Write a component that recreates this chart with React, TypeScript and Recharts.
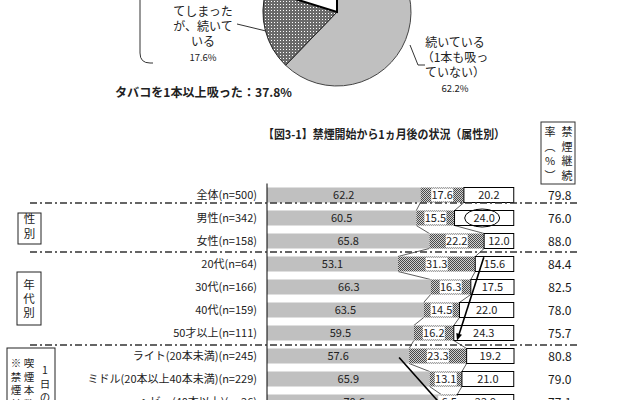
import {
  Bar,
  BarChart,
  Cell,
  LabelList,
  Pie,
  PieChart,
  ReferenceDot,
  ReferenceLine,
  XAxis,
  YAxis,
} from "recharts";

const FONT = '"Noto Sans CJK JP", "Noto Sans", sans-serif';

// pie: 禁煙開始から1ヵ月後
const pieNames = ["続いている(1本も吸っていない)", "吸ってしまったが、続いている", "やめてしまった"];
const pieValues = [62.2, 17.6, 20.2];

// bars: 属性別
const categories = [
  "全体(n=500)",
  "男性(n=342)",
  "女性(n=158)",
  "20代(n=64)",
  "30代(n=166)",
  "40代(n=159)",
  "50才以上(n=111)",
  "ライト(20本未満)(n=245)",
  "ミドル(20本以上40本未満)(n=229)",
  "ヘビー(40本以上)(n=26)",
];
const continued = [62.2, 60.5, 65.8, 53.1, 66.3, 63.5, 59.5, 57.6, 65.9, 70.6];
const smokedStill = [17.6, 15.5, 22.2, 31.3, 16.3, 14.5, 16.2, 23.3, 13.1, 6.5];
const stopped = [20.2, 24.0, 12.0, 15.6, 17.5, 22.0, 24.3, 19.2, 21.0, 22.9];
const rate = [79.8, 76.0, 88.0, 84.4, 82.5, 78.0, 75.7, 80.8, 79.0, 77.1];

const rows = categories.map((name, i) => ({
  name,
  a: continued[i],
  b: smokedStill[i],
  c: stopped[i],
  rate: rate[i],
}));

const CH = 420;
const MARGIN = { top: 183.5, right: 126, bottom: 6.5, left: 0 };
const PITCH = (CH - MARGIN.top - MARGIN.bottom) / rows.length;

function SegA(p: any) {
  const { x, y, width, height, index } = p;
  const k = width / continued[index];
  const nx = continued[index + 1];
  return (
    <g>
      <rect x={x} y={y} width={width} height={height} fill="#c0c0c0" />
      {nx !== undefined && (
        <line x1={x + width} y1={y + height} x2={x + nx * k} y2={y + PITCH} stroke="#333" strokeWidth={0.8} />
      )}
    </g>
  );
}

function SegB(p: any) {
  const { x, y, width, height, index } = p;
  const k = width / smokedStill[index];
  const x0 = x - continued[index] * k;
  const i2 = index + 1;
  return (
    <g>
      <rect x={x} y={y} width={width} height={height} fill="url(#bardots)" />
      {i2 < rows.length && (
        <line
          x1={x + width}
          y1={y + height}
          x2={x0 + (continued[i2] + smokedStill[i2]) * k}
          y2={y + PITCH}
          stroke="#333"
          strokeWidth={0.8}
        />
      )}
    </g>
  );
}

function SegC(p: any) {
  const { x, y, width, height } = p;
  return <rect x={x} y={y} width={width} height={height} fill="#fff" stroke="#000" strokeWidth={1} />;
}

const midLabel = (p: any) => (
  <text x={p.x + p.width / 2} y={p.y + p.height / 2 + 4} textAnchor="middle" fontSize={11} fill="#222" fontFamily={FONT}>
    {Number(p.value).toFixed(1)}
  </text>
);

const boxLabel = (p: any) => {
  const cx = p.x + p.width / 2;
  const cy = p.y + p.height / 2;
  return (
    <g>
      <rect x={cx - 11} y={cy - 6.5} width={22} height={13} fill="#fff" />
      <text x={cx} y={cy + 4} textAnchor="middle" fontSize={11} fill="#222" fontFamily={FONT}>
        {Number(p.value).toFixed(1)}
      </text>
    </g>
  );
};

const rateLabel = (p: any) => (
  <text x={p.x + p.width + 46} y={p.y + p.height / 2 + 4.5} textAnchor="middle" fontSize={12} fill="#1a1a1a" fontFamily={FONT}>
    {Number(p.value).toFixed(1)}
  </text>
);

function arrow(ext0: number, ext1: number) {
  return (p: any) => {
    const { x1, y1, x2, y2 } = p;
    const dx = x2 - x1;
    const dy = y2 - y1;
    const L = Math.hypot(dx, dy) || 1;
    const ux = dx / L;
    const uy = dy / L;
    const sx = x1 - ux * ext0;
    const sy = y1 - uy * ext0;
    const ex = x2 + ux * ext1;
    const ey = y2 + uy * ext1;
    const hx = ex - ux * 7;
    const hy = ey - uy * 7;
    return (
      <g>
        <line x1={sx} y1={sy} x2={hx} y2={hy} stroke="#000" strokeWidth={1.6} />
        <polygon points={`${ex},${ey} ${hx - uy * 3},${hy + ux * 3} ${hx + uy * 3},${hy - ux * 3}`} fill="#000" />
      </g>
    );
  };
}

const ellipse = (p: any) => (
  <ellipse cx={p.cx} cy={p.cy} rx={17.5} ry={9} fill="none" stroke="#000" strokeWidth={1} />
);

function VText({ x, y, chars, step, size = 11 }: { x: number; y: number; chars: string[]; step: number; size?: number }) {
  return (
    <>
      {chars.map((c, i) => (
        <text key={i} x={x} y={y + i * step} textAnchor="middle" fontSize={size} fill="#222">
          {c}
        </text>
      ))}
    </>
  );
}

const sepDash = "7 3 2 3";

export default function App() {
  const pieData = pieNames.map((name, i) => ({ name, v: pieValues[i] }));
  const smokedTotal = (pieValues[1] + pieValues[2]).toFixed(1);
  return (
    <div
      style={{
        position: "absolute",
        left: 0,
        top: 0,
        width: 640,
        height: 400,
        overflow: "hidden",
        background: "#fff",
        fontFamily: FONT,
      }}
    >
      <div style={{ position: "absolute", left: 0, top: 0 }}>
        <BarChart width={640} height={CH} data={rows} layout="vertical" margin={MARGIN} barSize={15}>
          <defs>
            <pattern id="bardots" width="2" height="2" patternUnits="userSpaceOnUse">
              <rect width="2" height="2" fill="#d0d0d0" />
              <rect width="1" height="1" fill="#4a4a4a" />
              <rect x="1" y="1" width="1" height="1" fill="#4a4a4a" />
            </pattern>
          </defs>
          <XAxis
            type="number"
            domain={[0, 100]}
            orientation="top"
            tick={false}
            tickLine={false}
            height={0}
            axisLine={{ stroke: "#000" }}
          />
          <YAxis
            type="category"
            dataKey="name"
            width={267}
            tickLine={false}
            tickSize={6}
            tickMargin={4}
            axisLine={{ stroke: "#000" }}
            tick={{ fontSize: 11, fill: "#222", fontFamily: FONT }}
            interval={0}
          />
          <Bar dataKey="a" stackId="s" shape={SegA} isAnimationActive={false}>
            <LabelList dataKey="a" content={midLabel} />
          </Bar>
          <Bar dataKey="b" stackId="s" shape={SegB} isAnimationActive={false}>
            <LabelList dataKey="b" content={boxLabel} />
          </Bar>
          <Bar dataKey="c" stackId="s" shape={SegC} isAnimationActive={false}>
            <LabelList dataKey="c" content={midLabel} />
            <LabelList dataKey="rate" content={rateLabel} />
          </Bar>
          <ReferenceDot x={87.2} y={categories[1]} shape={ellipse} />
          <ReferenceLine
            segment={[
              { x: 87.0, y: categories[3] },
              { x: 78.0, y: categories[6] },
            ]}
            shape={arrow(7, 8)}
          />
          <ReferenceLine
            segment={[
              { x: 53.0, y: categories[7] },
              { x: 69.6, y: categories[9] },
            ]}
            shape={arrow(-2, 10)}
          />
        </BarChart>
      </div>

      <div style={{ position: "absolute", left: 0, top: 0 }}>
        <PieChart width={640} height={110} margin={{ top: 0, right: 0, bottom: 0, left: 0 }}>
          <defs>
            <pattern id="piedots" width="3" height="3" patternUnits="userSpaceOnUse">
              <rect width="3" height="3" fill="#6a6a6a" />
              <rect x="1" y="1" width="1" height="1" fill="#fff" />
            </pattern>
          </defs>
          <Pie
            data={pieData}
            dataKey="v"
            cx={337}
            cy={12}
            outerRadius={74}
            startAngle={90}
            endAngle={-270}
            isAnimationActive={false}
          >
            <Cell fill="#c0c0c0" stroke="#444" strokeWidth={1} />
            <Cell fill="url(#piedots)" stroke="#222" strokeWidth={1} />
            <Cell fill="#fff" stroke="#000" strokeWidth={2} />
          </Pie>
        </PieChart>
      </div>

      <svg
        width={640}
        height={400}
        style={{ position: "absolute", left: 0, top: 0, pointerEvents: "none" }}
        fontFamily={FONT}
      >
        {/* pie annotations */}
        <path d="M140 0 L140 53 Q140 63 150 63 L153 63" fill="none" stroke="#333" strokeWidth={1} />
        <path d="M237 24 L266 31" fill="none" stroke="#333" strokeWidth={1} />
        <path d="M410 45 L418 65 L425 65" fill="none" stroke="#333" strokeWidth={1} />
        <g fontSize={12} fill="#222" textAnchor="middle">
          <text x={203} y={16}>てしまった</text>
          <text x={203} y={31}>が、続いて</text>
          <text x={203} y={46}>いる</text>
          <text x={203} y={61} fontSize={9.5}>{pieValues[1]}%</text>
          <text x={455} y={47}>続いている</text>
          <text x={455} y={62}>（1本も吸っ</text>
          <text x={455} y={77}>ていない）</text>
          <text x={455} y={92} fontSize={9.5}>{pieValues[0]}%</text>
        </g>
        <text x={115} y={97} fontSize={12} fontWeight="bold" fill="#222" textLength={177} lengthAdjust="spacingAndGlyphs">
          タバコを1本以上吸った：{smokedTotal}%
        </text>

        {/* title */}
        <text x={263} y={139} fontSize={12} fontWeight="bold" fill="#222" textLength={242} lengthAdjust="spacingAndGlyphs">
          【図3-1】禁煙開始から1ヵ月後の状況（属性別）
        </text>

        {/* rate heading */}
        <rect x={541} y={122} width={34} height={62} fill="none" stroke="#333" strokeWidth={1} />
        <VText x={567} y={136} chars={["禁", "煙", "継", "続"]} step={14.5} />
        <VText x={550} y={136} chars={["率", "︵", "%", "︶"]} step={14.5} />

        {/* separators */}
        {[203, 252, 345].map((y) => (
          <line key={y} x1={30} x2={580} y1={y} y2={y} stroke="#333" strokeWidth={1.3} strokeDasharray={sepDash} />
        ))}

        {/* group boxes */}
        <rect x={18} y={213} width={23} height={31} fill="none" stroke="#222" strokeWidth={1} />
        <VText x={29.5} y={223} chars={["性", "別"]} step={14.5} size={11.5} />
        <rect x={17} y={272} width={24} height={53} fill="none" stroke="#222" strokeWidth={1} />
        <VText x={29} y={289} chars={["年", "代", "別"]} step={14} size={11.5} />
        <rect x={7} y={348} width={48} height={70} fill="none" stroke="#222" strokeWidth={1} />
        <VText x={16} y={367} chars={["※", "禁", "煙", "前"]} step={13.5} size={10.5} />
        <VText x={29} y={367} chars={["喫", "煙", "本", "数"]} step={13.5} size={10.5} />
        <VText x={45} y={374} chars={["1", "日", "の"]} step={13.5} size={10.5} />
      </svg>
    </div>
  );
}
